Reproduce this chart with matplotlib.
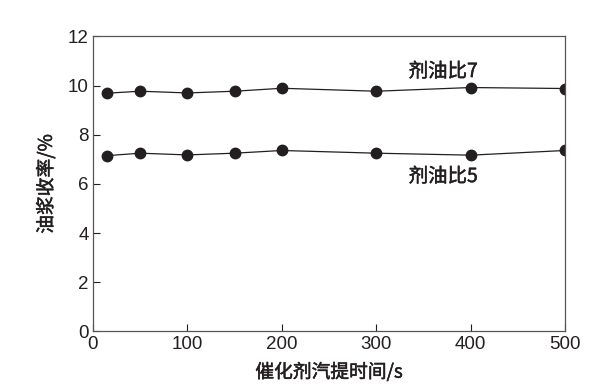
import matplotlib
matplotlib.use("Agg")
import matplotlib.pyplot as plt
import matplotlib.patheffects as pe

plt.rcParams['font.family'] = ['Liberation Sans', 'Noto Sans CJK SC']

x = [15, 50, 100, 150, 200, 300, 400, 500]
ratio7 = [9.69, 9.77, 9.70, 9.77, 9.89, 9.77, 9.92, 9.88]
ratio5 = [7.15, 7.25, 7.18, 7.25, 7.36, 7.25, 7.17, 7.36]
label7 = "剂油比7"
label5 = "剂油比5"
xlabel = "催化剂汽提时间/s"
ylabel = "油浆收率/%"
xticks = [0, 100, 200, 300, 400, 500]
yticks = [0, 2, 4, 6, 8, 10, 12]

c = '#231f20'
fig = plt.figure(figsize=(6.05, 3.85), dpi=100)
ax = fig.add_axes([0.1537, 0.139, 0.7803, 0.7665])
for ys in (ratio7, ratio5):
    ax.plot(x, ys, color=c, lw=0.9, marker='o', ms=7.5, mfc=c, mec=c)
ax.set_xlim(0, 500)
ax.set_ylim(0, 12)
ax.set_xticks(xticks)
ax.set_yticks(yticks)
ax.tick_params(direction='in', length=5, width=0.8, colors=c, labelsize=13.5, pad=3)
for s in ax.spines.values():
    s.set_color('#555555')
    s.set_linewidth(0.9)
cjk = ['Noto Sans CJK SC', 'Liberation Sans']
thick = [pe.withStroke(linewidth=0.35, foreground=c)]
ax.text(371, 10.57, label7, ha='center', va='center', fontsize=14, color=c,
        family=cjk, path_effects=thick)
ax.text(371, 6.3, label5, ha='center', va='center', fontsize=14, color=c,
        family=cjk, path_effects=thick)
ax.set_xlabel(xlabel, fontsize=13.5, color=c, labelpad=6.5, family=cjk, path_effects=thick)
ax.set_ylabel(ylabel, fontsize=13.5, color=c, labelpad=8, family=cjk, path_effects=thick)
fig.savefig("out.png", dpi=100)
